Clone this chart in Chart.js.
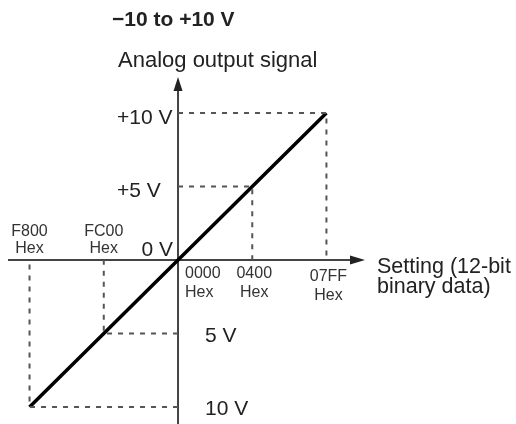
<!DOCTYPE html>
<html>
<head>
<meta charset="utf-8">
<script src="https://cdn.jsdelivr.net/npm/chart.js@4.4.1/dist/chart.umd.min.js"></script>
<style>
  html, body { margin: 0; padding: 0; background: #fff; }
  canvas { display: block; }
</style>
</head>
<body>
<canvas id="outputChart" width="516" height="424"></canvas>
<script>
const rangeTitle = '\u221210 to +10 V';
const yAxisTitle = 'Analog output signal';
const xAxisTitle = ['Setting (12-bit', 'binary data)'];

const hexCodes = ['F800', 'FC00', '0000', '0400', '07FF'];
const settings = [-2048, -1024, 0, 1024, 2047];
const volts = [-10, -5, 0, 5, 10];
const voltLabels = ['10 V', '5 V', '0 V', '+5 V', '+10 V'];

const textFont = '"Liberation Sans", Arial, sans-serif';

// straight response line through the listed points
const lineData = settings.map((s, i) => ({ x: s, y: volts[i] }));

// dashed guides: from the y axis across to the point, then to the x axis
const guideSets = settings
    .map((s, i) => ({ s, v: volts[i] }))
    .filter(p => p.s !== 0)
    .map(p => ({
        data: [{ x: 0, y: p.v }, { x: p.s, y: p.v }, { x: p.s, y: 0 }],
        borderColor: '#555',
        borderWidth: 2,
        borderDash: [5, 6],
        pointRadius: 0,
        showLine: true,
        tension: 0
    }));

const axesPlugin = {
    id: 'axesPlugin',
    beforeDatasetsDraw(chart) {
        const { ctx, scales: { x, y } } = chart;
        const x0 = x.getPixelForValue(0);
        const y0 = y.getPixelForValue(0);
        ctx.save();
        ctx.strokeStyle = '#444';
        ctx.fillStyle = '#222';
        ctx.lineWidth = 2;

        ctx.beginPath();
        ctx.moveTo(x0, y.bottom);
        ctx.lineTo(x0, y.top + 10);
        ctx.stroke();
        ctx.beginPath();
        ctx.moveTo(x0, y.top);
        ctx.lineTo(x0 - 4.5, y.top + 14);
        ctx.lineTo(x0 + 4.5, y.top + 14);
        ctx.closePath();
        ctx.fill();

        ctx.beginPath();
        ctx.moveTo(x.left, y0);
        ctx.lineTo(x.right - 10, y0);
        ctx.stroke();
        ctx.beginPath();
        ctx.moveTo(x.right, y0);
        ctx.lineTo(x.right - 15, y0 - 4.5);
        ctx.lineTo(x.right - 15, y0 + 4.5);
        ctx.closePath();
        ctx.fill();
        ctx.restore();
    },
    afterDraw(chart) {
        const { ctx, scales: { x, y } } = chart;
        const x0 = x.getPixelForValue(0);
        const y0 = y.getPixelForValue(0);
        ctx.save();
        ctx.fillStyle = '#222';
        ctx.textBaseline = 'alphabetic';

        ctx.font = `bold 21px ${textFont}`;
        ctx.textAlign = 'left';
        ctx.fillText(rangeTitle, x0 - 66, 26);

        ctx.font = `22px ${textFont}`;
        ctx.fillText(yAxisTitle, x0 - 60, y.top - 10);
        ctx.font = `21.5px ${textFont}`;
        xAxisTitle.forEach((t, i) => ctx.fillText(t, x.right + 12, y0 + 13 + i * 20));

        // voltage labels
        ctx.font = `21px ${textFont}`;
        volts.forEach((v, i) => {
            const py = y.getPixelForValue(v);
            if (v > 0) {
                ctx.textAlign = 'left';
                ctx.fillText(voltLabels[i], x0 - 61, py + 11);
            } else if (v < 0) {
                ctx.textAlign = 'left';
                ctx.fillText(voltLabels[i], x0 + 27, py + 8.5);
            } else {
                ctx.textAlign = 'right';
                ctx.fillText(voltLabels[i], x0 - 5, y0 - 4);
            }
        });

        // hex setting labels
        ctx.font = `16px ${textFont}`;
        ctx.fillStyle = '#333';
        settings.forEach((s, i) => {
            const px = x.getPixelForValue(s);
            if (s < 0) {
                ctx.textAlign = 'center';
                ctx.fillText(hexCodes[i], px, y0 - 24);
                ctx.fillText('Hex', px, y0 - 7);
            } else if (s === 0) {
                ctx.textAlign = 'left';
                ctx.fillText(hexCodes[i], px + 7, y0 + 18);
                ctx.fillText('Hex', px + 7, y0 + 37);
            } else {
                const drop = s > 1500 ? 3 : 0;
                ctx.textAlign = 'center';
                ctx.fillText(hexCodes[i], px + 2, y0 + 18 + drop);
                ctx.fillText('Hex', px + 2, y0 + 37 + drop);
            }
        });
        ctx.restore();
    }
};

const ctx = document.getElementById('outputChart').getContext('2d');
const outputChart = new Chart(ctx, {
    type: 'scatter',
    data: {
        datasets: [
            ...guideSets,
            {
                data: lineData,
                borderColor: '#000',
                borderWidth: 3.5,
                pointRadius: 0,
                showLine: true,
                tension: 0
            }
        ]
    },
    options: {
        responsive: false,
        animation: false,
        devicePixelRatio: 1,
        layout: { padding: { left: 8, right: 151, top: 77, bottom: 0 } },
        scales: {
            x: { type: 'linear', min: -2345, max: 2579, display: false },
            y: { type: 'linear', min: -11.16, max: 12.45, display: false }
        },
        plugins: {
            legend: { display: false },
            tooltip: { enabled: false },
            title: { display: false }
        }
    },
    plugins: [axesPlugin]
});
</script>
</body>
</html>
